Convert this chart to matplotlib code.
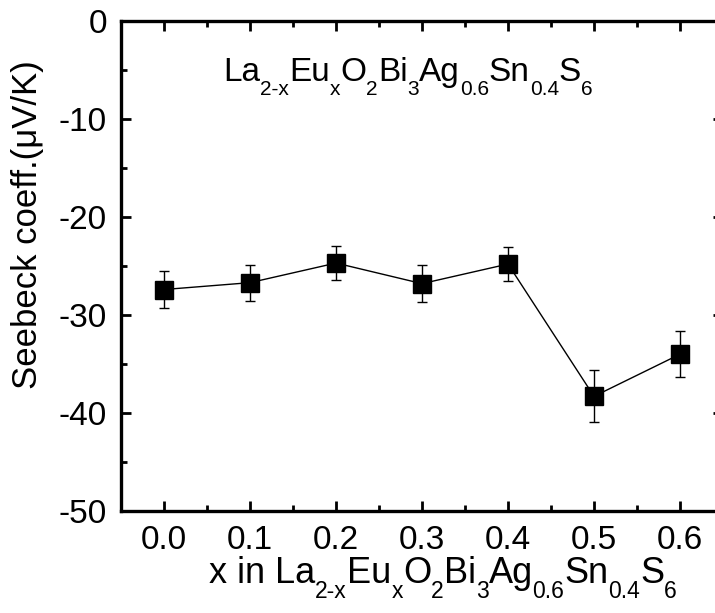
import matplotlib
matplotlib.use("Agg")
import matplotlib.pyplot as plt
from matplotlib.ticker import MultipleLocator

plt.rcParams['font.family'] = ['Liberation Sans', 'DejaVu Sans']
plt.rcParams['axes.unicode_minus'] = False

x = [0.0, 0.1, 0.2, 0.3, 0.4, 0.5, 0.6]
seebeck = [-27.4, -26.7, -24.7, -26.8, -24.8, -38.3, -34.0]
err = [1.9, 1.85, 1.7, 1.9, 1.7, 2.65, 2.35]
xticks = [0.0, 0.1, 0.2, 0.3, 0.4, 0.5, 0.6]
yticks = [0, -10, -20, -30, -40, -50]

# formula pieces: (text, is_subscript)
formula = [("La", False), ("2-x", True), ("Eu", False), ("x", True), ("O", False), ("2", True),
           ("Bi", False), ("3", True), ("Ag", False), ("0.6", True), ("Sn", False), ("0.4", True),
           ("S", False), ("6", True)]

W, H = 715, 613
fig = plt.figure(figsize=(W / 100, H / 100), dpi=100)
ax = fig.add_axes([121 / W, 102 / H, 602 / W, 490 / H])

ax.errorbar(x, seebeck, yerr=err, color='black', lw=1.0, marker='s',
            markersize=12.5, markerfacecolor='black', markeredgecolor='black',
            ecolor='black', elinewidth=1.0, capsize=3.6, capthick=1.0)

ax.set_xlim(-0.05, 0.65)
ax.set_ylim(-50, 0)
ax.set_xticks(xticks)
ax.set_xticklabels([f"{v:.1f}" for v in xticks])
ax.set_yticks(yticks)
ax.set_yticklabels([f"{v:d}" for v in yticks])
ax.xaxis.set_minor_locator(MultipleLocator(0.05))
ax.yaxis.set_minor_locator(MultipleLocator(5))

for s in ax.spines.values():
    s.set_linewidth(2.4)
ax.tick_params(which='both', direction='in', top=True, right=True, width=2.0)
ax.tick_params(which='major', length=7, labelsize=24, pad=10)
ax.tick_params(which='minor', length=4)

fig.text(28 / W, 1 - 225 / H, 'Seebeck coeff.(μV/K)', fontsize=25, rotation=90,
         ha='center', va='center')

renderer = fig.canvas.get_renderer()


def draw_rich(parts, cx_px, base_px, main_size=24, sub_size=15, drop_px=14):
    items = []
    for txt, sub in parts:
        t = fig.text(0, 0, txt, fontsize=sub_size if sub else main_size,
                     ha='left', va='baseline')
        w = t.get_window_extent(renderer).width
        items.append((t, w, sub))
    total = sum(w for _, w, _ in items)
    cur = cx_px - total / 2
    for t, w, sub in items:
        yb = base_px + (drop_px if sub else 0)
        t.set_position((cur / W, 1 - yb / H))
        cur += w


draw_rich(formula, 408, 81)
draw_rich([("x in ", False)] + formula, 443, 583, main_size=26, sub_size=16.5, drop_px=15)

fig.savefig('out.png', dpi=100)
